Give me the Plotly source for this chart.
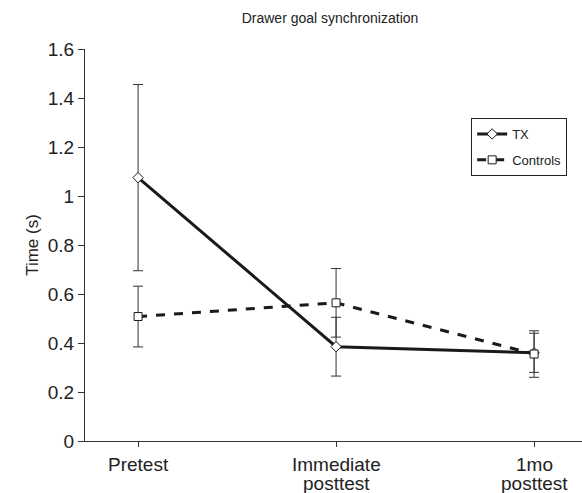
import plotly.graph_objects as go

categories = ["Pretest", "Immediate<br>posttest", "1mo<br>posttest"]
tx_mean = [1.075, 0.385, 0.36]
tx_err = [0.38, 0.12, 0.08]
ctrl_mean = [0.508, 0.564, 0.355]
ctrl_err = [0.124, 0.14, 0.095]
y_ticks = [0, 0.2, 0.4, 0.6, 0.8, 1, 1.2, 1.4, 1.6]

xs = list(range(len(categories)))
font = "Liberation Sans, Arial, sans-serif"

fig = go.Figure()
fig.add_trace(go.Scatter(
    x=xs, y=tx_mean, name="TX", mode="lines+markers", legendgroup="a",
    line=dict(color="#1a1a1a", width=3),
    marker=dict(symbol="diamond", size=8, color="white", line=dict(color="#1a1a1a", width=1)),
    error_y=dict(type="data", array=tx_err, color="#333333", thickness=1, width=5),
))
fig.add_trace(go.Scatter(
    x=xs, y=ctrl_mean, name="Controls", mode="lines+markers", legendgroup="b",
    line=dict(color="#1a1a1a", width=3, dash="dash"),
    marker=dict(symbol="square", size=8, color="white", line=dict(color="#1a1a1a", width=1)),
    error_y=dict(type="data", array=ctrl_err, color="#333333", thickness=1, width=5),
))

# x tick labels drawn line-by-line at the category positions (tight line spacing)
line_y = [-0.061, -0.109]
for xv, lab in zip(xs, categories):
    for i, part in enumerate(lab.split("<br>")):
        fig.add_annotation(x=xv, xref="x", y=line_y[i], yref="paper", text=part,
                           showarrow=False, xanchor="center", yanchor="middle",
                           font=dict(size=19, family=font, color="#222222"))

fig.update_layout(
    width=582, height=493,
    margin=dict(l=85, r=0, t=49, b=52, autoexpand=False),
    paper_bgcolor="white", plot_bgcolor="white",
    font=dict(family=font, color="#222222", size=19),
    title=dict(text="Drawer goal synchronization", x=0.567, xanchor="center", y=0.963, yanchor="middle",
               font=dict(size=14, family=font, color="#222222")),
    showlegend=True,
    legend=dict(x=0.777, y=0.824, xanchor="left", yanchor="top",
                bordercolor="#222222", borderwidth=1, bgcolor="white",
                font=dict(size=13, family=font), traceorder="grouped", tracegroupgap=6,
                itemwidth=30),
    xaxis=dict(
        range=[-0.268, 2.242], tickmode="array", tickvals=xs, ticktext=categories,
        showticklabels=False,
        showgrid=False, zeroline=False, showline=True, linecolor="#333333", linewidth=1,
        ticks="outside", ticklen=5, tickcolor="#333333",
        automargin=False,
    ),
    yaxis=dict(
        range=[0, 1.6], tickmode="array", tickvals=y_ticks,
        ticktext=[str(v) for v in y_ticks],
        showgrid=False, zeroline=False, showline=True, linecolor="#333333", linewidth=1,
        ticks="outside", ticklen=6, tickcolor="#333333", tickfont=dict(size=19),
        title=dict(text="Time (s)", font=dict(size=17), standoff=4),
        automargin=False,
    ),
)

fig.write_html("out.html")
